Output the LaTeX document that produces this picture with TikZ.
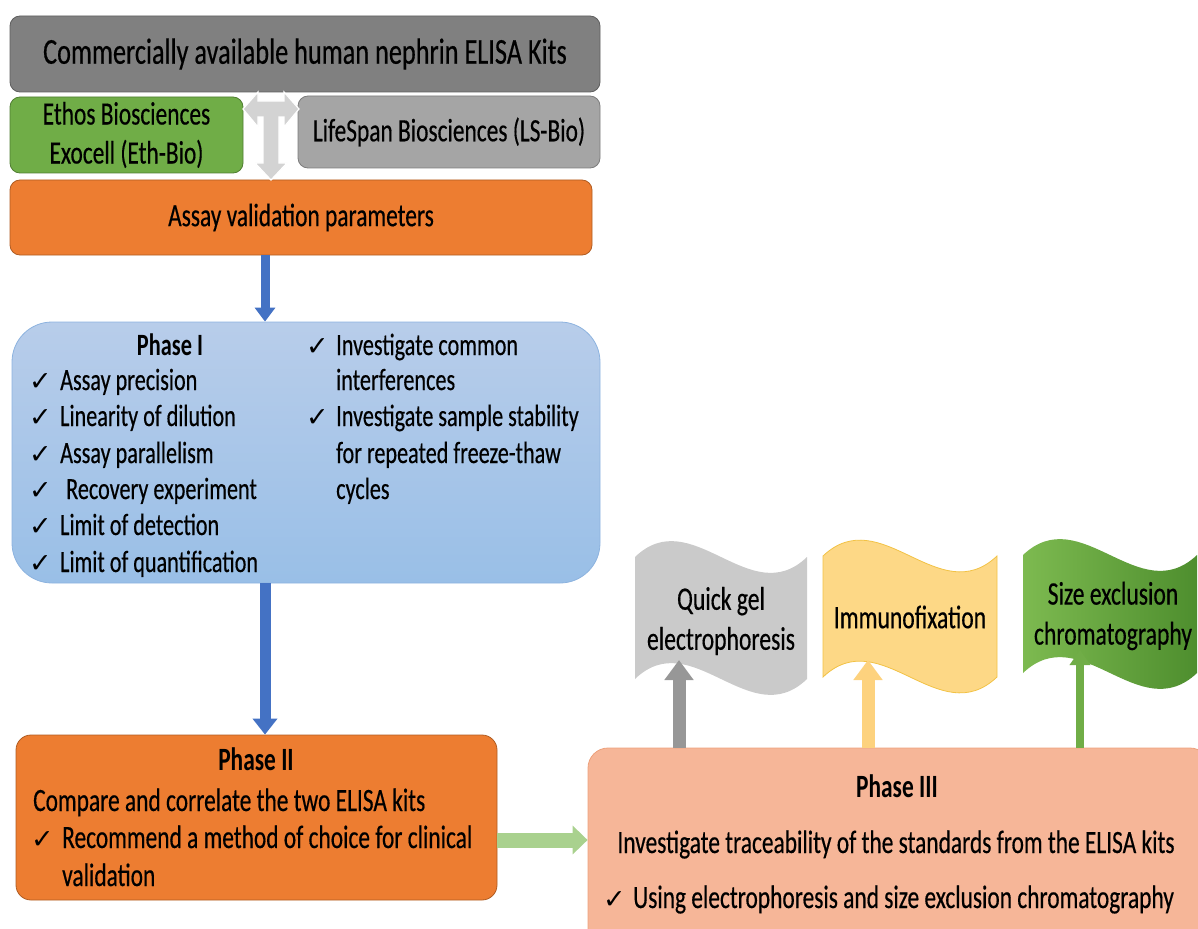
\documentclass[tikz,border=0pt]{standalone}
\usepackage{fontspec}
\setmainfont{Carlito}[FakeStretch=0.72, UprightFeatures={FakeBold=0.4}]
\newfontfamily\ckfont{DejaVu Sans}
\usetikzlibrary{arrows.meta}
\definecolor{titlegray}{HTML}{808080}
\definecolor{titleedge}{HTML}{5E5E5E}
\definecolor{kitgreen}{HTML}{70AD47}
\definecolor{kitgreenedge}{HTML}{507E32}
\definecolor{kitgray}{HTML}{A5A5A5}
\definecolor{kitgrayedge}{HTML}{7C7C7C}
\definecolor{orangefill}{HTML}{ED7D31}
\definecolor{orangeedge}{HTML}{B05C22}
\definecolor{blueTop}{HTML}{B8CDEA}
\definecolor{blueBot}{HTML}{99BFE7}
\definecolor{blueedge}{HTML}{8DB3DF}
\definecolor{arrowblue}{HTML}{4472C4}
\definecolor{salmon}{HTML}{F6B698}
\definecolor{salmonedge}{HTML}{EDA17C}
\definecolor{lightgreen}{HTML}{A9D18E}
\definecolor{tgray}{HTML}{D3D3D3}
\definecolor{flaggray}{HTML}{CACACA}
\definecolor{flagyellow}{HTML}{FDD886}
\definecolor{flagyellowedge}{HTML}{F2C245}
\definecolor{flaggreenA}{HTML}{7DBA50}
\definecolor{flaggreenB}{HTML}{4E8E2E}
\definecolor{arrgray}{HTML}{979797}
\definecolor{arryellow}{HTML}{FDD27E}
\newcommand{\fs}[2]{\fontsize{#1}{#2}\selectfont}
\newcommand{\ck}{{\ckfont\fontsize{27}{30}\selectfont ✓}}
\begin{document}
\begin{tikzpicture}[x=1pt,y=-1pt,
  boxbase/.style={draw, line width=0.8pt, inner sep=0pt, text=black, align=center},
  txt/.style={inner sep=0pt, text=black},
  bluearrow/.style={draw=arrowblue, line width=11pt, -{Triangle[length=16pt,width=24pt]}},
  greenarrow/.style={draw=lightgreen, line width=15pt, -{Triangle[length=15pt,width=28pt]}},
  flagarrow/.style={line width=13pt, -{Triangle[length=20pt,width=28pt]}}
]
\useasboundingbox (0,0) rectangle (1198,928);

% top boxes
\node[boxbase, fill=titlegray, draw=titleedge, rounded corners=10pt,
      minimum width=590pt, minimum height=76pt, font=\fs{36.5}{40}] (top) at (305,54)
      {Commercially available human nephrin ELISA Kits};
\node[boxbase, fill=kitgreen, draw=kitgreenedge, rounded corners=10pt,
      minimum width=233pt, minimum height=76pt, font=\fs{32.5}{39}] (ethos) at (126.5,135)
      {Ethos Biosciences\\Exocell (Eth-Bio)};
\node[boxbase, fill=kitgray, draw=kitgrayedge, rounded corners=10pt,
      minimum width=302pt, minimum height=72pt, font=\fs{32.5}{36}] (ls) at (449,132)
      {LifeSpan Biosciences (LS-Bio)};
\node[boxbase, fill=orangefill, draw=orangeedge, rounded corners=10pt,
      minimum width=582pt, minimum height=75pt, font=\fs{32.5}{36}] (assay) at (301,217.5)
      {Assay validation parameters};

% left-right-down arrow
\filldraw[fill=tgray, draw=white, line width=1.2pt, line join=miter]
  (243,109) -- (258,92) -- (258,101) -- (284,101) -- (284,92) -- (299,109)
  -- (284,127) -- (284,117) -- (279,117) -- (279,163) -- (287,163) -- (271,180)
  -- (255,163) -- (263,163) -- (263,117) -- (258,117) -- (258,127) -- cycle;

% Phase I
\node[boxbase, top color=blueTop, bottom color=blueBot, draw=blueedge, rounded corners=40pt,
      minimum width=588pt, minimum height=261pt] (p1) at (306,452.5) {};
\node[txt, anchor=base, font=\bfseries\fs{31}{35}] (p1h) at (170,355) {Phase I};
\foreach \t/\yy/\xx [count=\i] in {Assay precision/390/60, Linearity of dilution/426/60,
   Assay parallelism/463/60, Recovery experiment/499/66, Limit of detection/535/60,
   Limit of quantification/572/60}{
  \node[txt, anchor=base west] (ck\i) at (29,\yy) {\ck};
  \node[txt, anchor=base west, font=\fs{30.8}{35}] (it\i) at (\xx,\yy) {\t};
}
\node[txt, anchor=base west] (rck1) at (306,355) {\ck};
\node[txt, anchor=base west] (rck2) at (306,426) {\ck};
\foreach \t/\yy [count=\i] in {Investigate common/355, interferences/390,
   Investigate sample stability/426, for repeated freeze-thaw/463, cycles/499}{
  \node[txt, anchor=base west, font=\fs{30.8}{35}] (rt\i) at (336,\yy) {\t};
}

% Phase II
\node[boxbase, fill=orangefill, draw=orangeedge, rounded corners=15pt,
      minimum width=481pt, minimum height=165pt] (p2) at (256.5,817.5) {};
\node[txt, anchor=base, font=\bfseries\fs{32.5}{36}] (p2h) at (256,770) {Phase II};
\node[txt, anchor=base west, font=\fs{32.5}{36}] (p2a) at (33,811) {Compare and correlate the two ELISA kits};
\node[txt, anchor=base west] (p2ck) at (31,848) {\ck};
\node[txt, anchor=base west, font=\fs{32.5}{36}] (p2b) at (62,848) {Recommend a method of choice for clinical};
\node[txt, anchor=base west, font=\fs{32.5}{36}] (p2c) at (62,886) {validation};

% Phase III
\node[boxbase, fill=salmon, draw=salmonedge, rounded corners=20pt,
      minimum width=622pt, minimum height=202pt] (p3) at (899,849) {};
\node[txt, anchor=base, font=\bfseries\fs{32.5}{36}] (p3h) at (897,797) {Phase III};
\node[txt, anchor=base, font=\fs{32.5}{36}] (p3a) at (896,853) {Investigate traceability of the standards from the ELISA kits};
\node[txt, anchor=base west] (p3ck) at (603,908) {\ck};
\node[txt, anchor=base west, font=\fs{32.5}{36}] (p3b) at (633,908) {Using electrophoresis and size exclusion chromatography};

% flags
\fill[flaggray] (635,557) .. controls (692,502) and (750,612) .. (807,557) -- (807,679)
  .. controls (750,734) and (692,624) .. (635,679) -- cycle;
\filldraw[fill=flagyellow, draw=flagyellowedge, line width=0.8pt] (823,556) .. controls (881,501) and (939,611) .. (997,556) -- (997,677)
  .. controls (939,732) and (881,622) .. (823,677) -- cycle;
\shade[left color=flaggreenA, right color=flaggreenB] (1023,555) .. controls (1081,500) and (1139,610) .. (1197,555) -- (1197,673)
  .. controls (1139,728) and (1081,618) .. (1023,673) -- cycle;
\node[txt, align=center, font=\fs{32.8}{40}] (f1) at (721,621) {Quick gel\\electrophoresis};
\node[txt, align=center, font=\fs{32.8}{40}] (f2) at (910,617) {Immunofixation};
\node[txt, align=center, font=\fs{32.8}{40}] (f3) at (1113,616) {Size exclusion\\chromatography};
\coordinate (t1) at (679,660);
\coordinate (t2) at (868,660);
\coordinate (t3) at (1080,650);

% connectors
\coordinate (col) at (265,0);
\draw[bluearrow, line width=9pt, -{Triangle[length=14pt,width=20pt]}] (assay.south -| col) -- (p1.north -| col);
\draw[bluearrow] (p1.south -| col) -- (p2.north -| col);
\coordinate (gy) at (0,840);
\draw[greenarrow] (p2.east |- gy) -- (p3.west |- gy);
\draw[flagarrow, draw=arrgray] (p3.north -| t1) -- (t1);
\draw[flagarrow, draw=arryellow] (p3.north -| t2) -- (t2);
\draw[flagarrow, draw=kitgreen, line width=8pt, -{Triangle[length=15pt,width=20pt]}] (p3.north -| t3) -- (t3);
\end{tikzpicture}
\end{document}
